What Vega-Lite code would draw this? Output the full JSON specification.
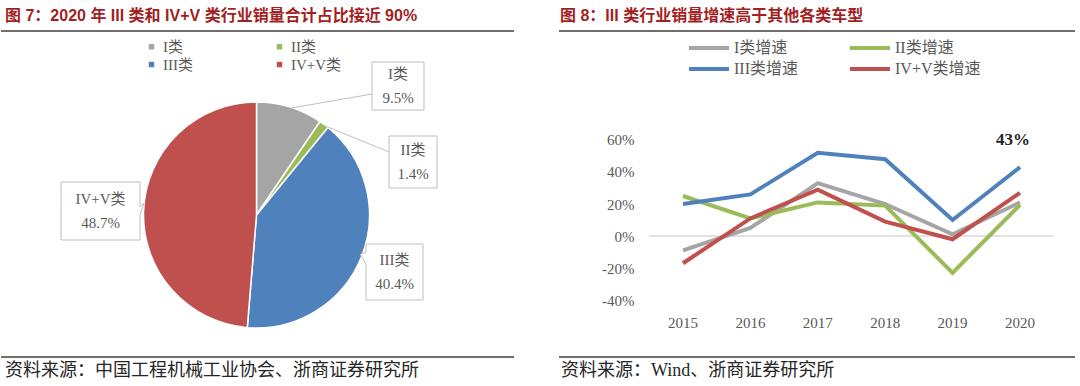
{
  "$schema": "https://vega.github.io/schema/vega-lite/v6.json",
  "background": "white",
  "padding": {"left": 0, "top": 8, "right": 0, "bottom": 0},
  "spacing": 43,
  "resolve": {"scale": {"color": "independent"}, "legend": {"color": "independent"}},
  "datasets": {
    "pie": [
      {"cat": "I类", "share": 0.095, "k": 1},
      {"cat": "II类", "share": 0.014, "k": 2},
      {"cat": "III类", "share": 0.404, "k": 3},
      {"cat": "IV+V类", "share": 0.487, "k": 4}
    ],
    "growth": [
      {"s": "I类增速", "year": "2015", "v": -0.09},
      {"s": "I类增速", "year": "2016", "v": 0.05},
      {"s": "I类增速", "year": "2017", "v": 0.33},
      {"s": "I类增速", "year": "2018", "v": 0.20},
      {"s": "I类增速", "year": "2019", "v": 0.01},
      {"s": "I类增速", "year": "2020", "v": 0.21},
      {"s": "II类增速", "year": "2015", "v": 0.25},
      {"s": "II类增速", "year": "2016", "v": 0.11},
      {"s": "II类增速", "year": "2017", "v": 0.21},
      {"s": "II类增速", "year": "2018", "v": 0.19},
      {"s": "II类增速", "year": "2019", "v": -0.23},
      {"s": "II类增速", "year": "2020", "v": 0.195},
      {"s": "III类增速", "year": "2015", "v": 0.20},
      {"s": "III类增速", "year": "2016", "v": 0.26},
      {"s": "III类增速", "year": "2017", "v": 0.52},
      {"s": "III类增速", "year": "2018", "v": 0.48},
      {"s": "III类增速", "year": "2019", "v": 0.10},
      {"s": "III类增速", "year": "2020", "v": 0.43},
      {"s": "IV+V类增速", "year": "2015", "v": -0.17},
      {"s": "IV+V类增速", "year": "2016", "v": 0.11},
      {"s": "IV+V类增速", "year": "2017", "v": 0.29},
      {"s": "IV+V类增速", "year": "2018", "v": 0.09},
      {"s": "IV+V类增速", "year": "2019", "v": -0.02},
      {"s": "IV+V类增速", "year": "2020", "v": 0.27}
    ]
  },
  "hconcat": [
    {
      "title": {"text": "图 7：2020 年 III 类和 IV+V 类行业销量合计占比接近 90%", "anchor": "start", "dx": 4},
      "vconcat": [
        {
          "width": 513,
          "height": 326,
          "view": {"stroke": "#404040", "strokeWidth": 1.5, "strokeDash": [513, 326, 513, 326]},
          "title": {"text": "资料来源：中国工程机械工业协会、浙商证券研究所", "orient": "bottom", "anchor": "start", "frame": "group", "dx": 4, "offset": 5, "color": "#262626", "fontWeight": "normal", "font": "Liberation Serif, Noto Sans CJK SC", "fontSize": 18},
          "data": {"name": "pie"},
          "layer": [
            {
              "mark": {"type": "arc", "outerRadius": 113, "stroke": "white", "strokeWidth": 1.5, "xOffset": -1, "yOffset": 21},
              "encoding": {
                "theta": {"field": "share", "type": "quantitative", "stack": true},
                "order": {"field": "k", "type": "ordinal"},
                "color": {
                  "field": "cat", "type": "nominal",
                  "scale": {"domain": ["I类", "II类", "III类", "IV+V类"], "range": ["#A5A5A5", "#9BBB59", "#4F81BD", "#C0504D"]},
                  "legend": {"orient": "none", "legendX": 143, "legendY": 8, "direction": "horizontal", "columns": 2, "title": null, "symbolType": "square", "symbolSize": 30, "symbolStrokeWidth": 0, "labelFont": "Liberation Serif, Noto Sans CJK SC", "labelFontSize": 15, "labelColor": "#595959", "columnPadding": 79, "rowPadding": 2, "labelOffset": 4}
                }
              }
            },
            {
              "transform": [{"filter": "datum.cat === 'I类'"}],
              "mark": {"type": "point", "shape": "M-1,-0.923H1V0.923H-1Z M-1,0.31L-4.12,0.85", "size": 2704, "filled": true, "fill": "white", "stroke": "#BFBFBF", "strokeWidth": 1, "opacity": 1, "xOffset": 140.5, "yOffset": -108},
              "encoding": {}
            },
            {
              "transform": [{"filter": "datum.cat === 'II类'"}],
              "mark": {"type": "point", "shape": "M-1,-1.083H1V1.083H-1Z M-1,-0.417L-3.75,-1.54", "size": 2304, "filled": true, "fill": "white", "stroke": "#BFBFBF", "strokeWidth": 1, "opacity": 1, "xOffset": 155.5, "yOffset": -32},
              "encoding": {}
            },
            {
              "transform": [{"filter": "datum.cat === 'III类'"}],
              "mark": {"type": "point", "shape": "M-1,-0.982H1V0.982H-1V-0.28L-1.2,-0.62L-1,-0.70Z", "size": 3249, "filled": true, "fill": "white", "stroke": "#BFBFBF", "strokeWidth": 1, "opacity": 1, "xOffset": 137, "yOffset": 78},
              "encoding": {}
            },
            {
              "transform": [{"filter": "datum.cat === 'IV+V类'"}],
              "mark": {"type": "point", "shape": "M-1,-0.734H1V-0.1L1.1,-0.2L1,0.1V0.734H-1Z", "size": 6241, "filled": true, "fill": "white", "stroke": "#BFBFBF", "strokeWidth": 1, "opacity": 1, "xOffset": -157, "yOffset": 17},
              "encoding": {}
            },
            {
              "transform": [{"filter": "datum.cat === 'I类'"}],
              "mark": {"type": "text", "dx": 140.5, "dy": -120, "font": "Liberation Serif, Noto Sans CJK SC", "fontSize": 15, "color": "#595959"},
              "encoding": {"text": {"field": "cat"}}
            },
            {
              "transform": [{"filter": "datum.cat === 'I类'"}],
              "mark": {"type": "text", "dx": 140.5, "dy": -96, "font": "Liberation Serif, Noto Sans CJK SC", "fontSize": 15, "color": "#595959"},
              "encoding": {"text": {"field": "share", "format": ".1%"}}
            },
            {
              "transform": [{"filter": "datum.cat === 'II类'"}],
              "mark": {"type": "text", "dx": 155.5, "dy": -44, "font": "Liberation Serif, Noto Sans CJK SC", "fontSize": 15, "color": "#595959"},
              "encoding": {"text": {"field": "cat"}}
            },
            {
              "transform": [{"filter": "datum.cat === 'II类'"}],
              "mark": {"type": "text", "dx": 155.5, "dy": -20, "font": "Liberation Serif, Noto Sans CJK SC", "fontSize": 15, "color": "#595959"},
              "encoding": {"text": {"field": "share", "format": ".1%"}}
            },
            {
              "transform": [{"filter": "datum.cat === 'III类'"}],
              "mark": {"type": "text", "dx": 137, "dy": 66, "font": "Liberation Serif, Noto Sans CJK SC", "fontSize": 15, "color": "#595959"},
              "encoding": {"text": {"field": "cat"}}
            },
            {
              "transform": [{"filter": "datum.cat === 'III类'"}],
              "mark": {"type": "text", "dx": 137, "dy": 90, "font": "Liberation Serif, Noto Sans CJK SC", "fontSize": 15, "color": "#595959"},
              "encoding": {"text": {"field": "share", "format": ".1%"}}
            },
            {
              "transform": [{"filter": "datum.cat === 'IV+V类'"}],
              "mark": {"type": "text", "dx": -157, "dy": 5, "font": "Liberation Serif, Noto Sans CJK SC", "fontSize": 15, "color": "#595959"},
              "encoding": {"text": {"field": "cat"}}
            },
            {
              "transform": [{"filter": "datum.cat === 'IV+V类'"}],
              "mark": {"type": "text", "dx": -157, "dy": 29, "font": "Liberation Serif, Noto Sans CJK SC", "fontSize": 15, "color": "#595959"},
              "encoding": {"text": {"field": "share", "format": ".1%"}}
            }
          ]
        }
      ]
    },
    {
      "title": {"text": "图 8：III 类行业销量增速高于其他各类车型", "anchor": "start", "dx": 1},
      "vconcat": [
        {
          "width": 516,
          "height": 326,
          "view": {"stroke": "#404040", "strokeWidth": 1.5, "strokeDash": [516, 326, 516, 326]},
          "title": {"text": "资料来源：Wind、浙商证券研究所", "orient": "bottom", "anchor": "start", "frame": "group", "dx": 2, "offset": 5, "color": "#262626", "fontWeight": "normal", "font": "Liberation Serif, Noto Sans CJK SC", "fontSize": 18},
          "data": {"name": "growth"},
          "encoding": {
            "x": {
              "field": "year", "type": "ordinal",
              "scale": {"type": "band", "paddingInner": 0, "paddingOuter": 0.828, "align": 0.809},
              "axis": {"orient": "bottom", "offset": -45, "domain": false, "ticks": false, "grid": false, "labelPadding": 3, "labelAngle": 0, "title": null, "labelFont": "Liberation Serif", "labelFontSize": 15, "labelColor": "#595959"}
            },
            "y": {
              "field": "v", "type": "quantitative",
              "scale": {"domain": [-0.756, 1.281], "nice": false, "zero": false},
              "axis": {"values": [-0.4, -0.2, 0, 0.2, 0.4, 0.6], "format": ".0%", "labelExpr": "replace(datum.label, '\u2212', '-')", "offset": -79, "domain": false, "ticks": false, "grid": false, "labelPadding": 4, "title": null, "labelFont": "Liberation Serif", "labelFontSize": 15, "labelColor": "#595959"}
            }
          },
          "layer": [
            {
              "data": {"values": [{"base": 0}]},
              "mark": {"type": "rule", "color": "#D9D9D9", "strokeWidth": 1.5},
              "encoding": {
                "x": {"datum": "2015", "type": "ordinal", "bandPosition": 0},
                "x2": {"datum": "2020", "bandPosition": 1},
                "y": {"field": "base", "type": "quantitative"}
              }
            },
            {
              "mark": {"type": "line", "strokeWidth": 4},
              "encoding": {
                "color": {
                  "field": "s", "type": "nominal",
                  "scale": {"domain": ["I类增速", "II类增速", "III类增速", "IV+V类增速"], "range": ["#A5A5A5", "#9BBB59", "#4F81BD", "#C0504D"]},
                  "legend": {"orient": "none", "legendX": 142, "legendY": 9, "direction": "horizontal", "columns": 2, "title": null, "symbolType": "M-4,0H4", "symbolSize": 100, "symbolStrokeWidth": 4, "labelFont": "Liberation Serif, Noto Sans CJK SC", "labelFontSize": 16, "labelColor": "#595959", "columnPadding": 44, "rowPadding": 5, "labelOffset": 17}
                }
              }
            },
            {
              "transform": [{"filter": "datum.s === 'III类增速' && datum.year === '2020'"}],
              "mark": {"type": "text", "dy": -27, "dx": -7, "font": "Liberation Serif", "fontWeight": "bold", "fontSize": 17, "color": "#262626"},
              "encoding": {"text": {"field": "v", "format": ".0%"}}
            }
          ]
        }
      ]
    }
  ],
  "config": {
    "view": {"stroke": null},
    "title": {"font": "Liberation Sans, Noto Sans CJK SC", "fontSize": 16, "fontWeight": "bold", "color": "#A31F24", "offset": 6, "frame": "group"}
  }
}
